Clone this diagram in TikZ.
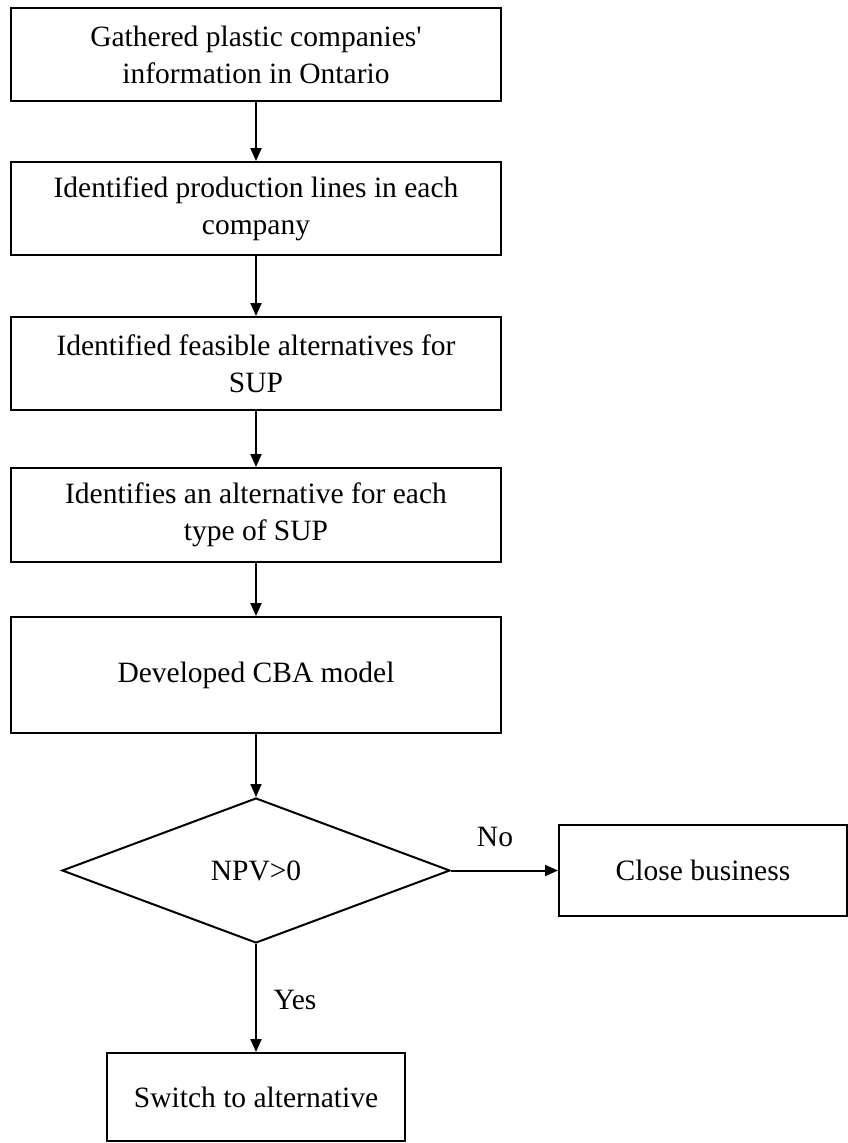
\documentclass[tikz,border=0pt]{standalone}
\usepackage{fontspec}
\setmainfont{Liberation Serif}[Ligatures=TeXOff]
\usetikzlibrary{arrows.meta,shapes.geometric}
\begin{document}
\begin{tikzpicture}[x=1pt,y=-1pt,
  every node/.style={font=\fontsize{29.5}{37}\selectfont},
  stepbox/.style={draw, line width=2pt, minimum width=490pt, align=center, inner sep=0pt},
  decision/.style={draw, diamond, line width=2pt, minimum width=388pt, minimum height=145pt, aspect=2.6, inner sep=0pt},
  arr/.style={line width=2pt, -{Triangle[length=13pt,width=11pt]}},
  lbl/.style={inner sep=0pt}]
\useasboundingbox (0,0) rectangle (848,1143);

% main column of steps
\node[stepbox, minimum height=93pt] (b1) at (256,54.5)
  {Gathered plastic companies'\\information in Ontario};
\node[stepbox, minimum height=93pt] (b2) at (256,208.5)
  {Identified production lines in each\\company};
\node[stepbox, minimum height=93pt] (b3) at (256,363.5)
  {Identified feasible alternatives for\\SUP};
\node[stepbox, minimum height=94pt] (b4) at (256,515)
  {Identifies an alternative for each\\type of SUP};
\node[stepbox, minimum height=116pt] (b5) at (256,675)
  {Developed CBA model};

% decision and its two outcomes
\node[decision] (d) at (256,870.5) {NPV>0};
\node[stepbox, minimum width=288pt, minimum height=91pt] (close) at (703,870.5) {Close business};
\node[stepbox, minimum width=298pt, minimum height=88pt] (sw) at (256,1097) {Switch to alternative};

% connectors
\draw[arr] (b1) -- (b2);
\draw[arr] (b2) -- (b3);
\draw[arr] (b3) -- (b4);
\draw[arr] (b4) -- (b5);
\draw[arr] (b5) -- (d);
\draw[arr] (d.east) -- (close.west);
\draw[arr] (d.south) -- (sw.north);

% branch labels
\node[lbl] (no) at (495,837) {No};
\node[lbl] (yes) at (295,1000) {Yes};
\end{tikzpicture}
\end{document}
